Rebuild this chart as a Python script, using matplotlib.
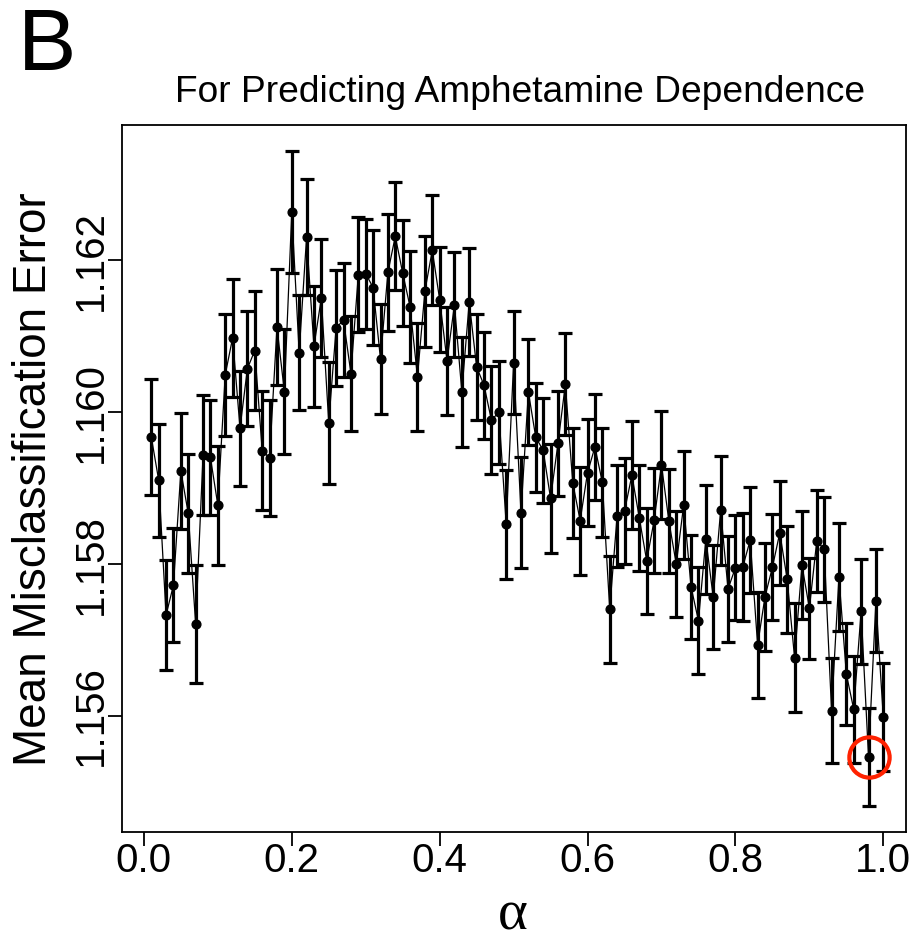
import numpy as np
import matplotlib
matplotlib.use("Agg")
import matplotlib.pyplot as plt

# ---------------- data ----------------
alpha = np.round(np.arange(1, 101) / 100.0, 2)

mean_err = [
    1.159675, 1.159105, 1.157329, 1.157724, 1.159228, 1.158667, 1.157211, 1.159434, 1.159404, 1.158776,
    1.160493, 1.160978, 1.159789, 1.160575, 1.160812, 1.159491, 1.159399, 1.161122, 1.160267, 1.162634,
    1.160786, 1.162303, 1.160868, 1.161504, 1.159859, 1.161114, 1.161211, 1.160509, 1.161812, 1.161825,
    1.161641, 1.160697, 1.161842, 1.162316, 1.161833, 1.161386, 1.160464, 1.161592, 1.162132, 1.161484,
    1.160675, 1.161417, 1.160267, 1.161451, 1.160596, 1.160355, 1.159895, 1.160000, 1.158526, 1.160651,
    1.158678, 1.160267, 1.159667, 1.159500, 1.158864, 1.159588, 1.160368, 1.159070, 1.158572, 1.159204,
    1.159543, 1.159075, 1.157404, 1.158636, 1.158697, 1.159171, 1.158609, 1.158043, 1.158575, 1.159307,
    1.158566, 1.158000, 1.158776, 1.157701, 1.157254, 1.158329, 1.157562, 1.158707, 1.157671, 1.157954,
    1.157964, 1.158316, 1.156934, 1.157570, 1.157957, 1.158412, 1.157799, 1.156767, 1.157987, 1.157417,
    1.158303, 1.158197, 1.156070, 1.157829, 1.156553, 1.156088, 1.157378, 1.155464, 1.157517, 1.155983,
]

se_err_e4 = [
    7.68, 7.46, 7.24, 7.53, 7.63, 7.89, 7.79, 7.89, 7.62, 7.83,
    8.03, 7.79, 7.57, 7.63, 7.86, 7.82, 7.68, 7.63, 8.22, 8.03,
    7.57, 7.62, 7.96, 7.72, 8.03, 7.63, 7.54, 7.55, 7.57, 7.24,
    7.57, 7.24, 7.68, 7.09, 7.03, 7.42, 7.16, 7.29, 7.24, 6.91,
    7.07, 6.91, 7.20, 7.16, 7.03, 7.07, 7.07, 6.80, 7.17, 6.78,
    7.34, 6.93, 7.21, 6.91, 7.20, 6.91, 6.74, 7.24, 7.13, 7.00,
    6.97, 7.17, 7.07, 6.70, 6.96, 7.11, 6.96, 6.95, 6.87, 7.13,
    6.80, 6.97, 7.07, 6.84, 7.04, 7.17, 6.83, 7.13, 6.97, 6.87,
    7.09, 6.95, 6.97, 7.11, 6.96, 6.87, 7.08, 7.17, 7.07, 6.64,
    6.76, 6.91, 6.87, 7.09, 6.70, 7.08, 6.91, 6.47, 6.80, 7.13,
]

xticks = [0.0, 0.2, 0.4, 0.6, 0.8, 1.0]
xtick_labels = ["0.0", "0.2", "0.4", "0.6", "0.8", "1.0"]
yticks = [1.156, 1.158, 1.160, 1.162]
ytick_labels = ["1.156", "1.158", "1.160", "1.162"]

title = "For Predicting Amphetamine Dependence"
ylabel = "Mean Misclassification Error"
xlabel = "\u03b1"
panel = "B"

mean_err = np.array(mean_err)
se = np.array(se_err_e4) * 1e-4
best = int(np.argmin(mean_err))

# ---------------- figure ----------------
SANS = ["Liberation Sans", "DejaVu Sans"]
plt.rcParams["font.family"] = SANS

W, H = 913, 942
fig = plt.figure(figsize=(W / 100, H / 100), dpi=100)
L, R, T, B = 122, 906, 125, 832
ax = fig.add_axes([L / W, 1 - B / H, (R - L) / W, (B - T) / H])

ax.errorbar(alpha, mean_err, yerr=se, fmt="none", ecolor="black",
            elinewidth=2.3, capsize=4.8, capthick=2.3, zorder=2)
ax.plot(alpha, mean_err, color="black", lw=0.9, zorder=3)
ax.plot(alpha, mean_err, "o", color="black", ms=6.3, zorder=4)
ax.plot(alpha[best], mean_err[best], "o", mfc="none", mec="#FF2200",
        ms=29, mew=3.0, zorder=5)

# R-style padding (slightly wider on the right, as in the source)
xr = alpha.max() - alpha.min()
ax.set_xlim(alpha.min() - 0.04 * xr, alpha.max() + 0.031 * xr)
lo = (mean_err - se).min()
hi = (mean_err + se).max()
yr = hi - lo
ax.set_ylim(lo - 0.04 * yr, hi + 0.04 * yr)

ax.set_xticks(xticks)
ax.set_xticklabels(xtick_labels, fontsize=29)
ax.set_yticks(yticks)
ax.set_yticklabels(ytick_labels, fontsize=29, rotation=90, va="center")
ax.tick_params(direction="out", length=10, width=1.3)
ax.tick_params(axis="x", pad=-2.5)
ax.tick_params(axis="y", pad=-1.4)
for s in ax.spines.values():
    s.set_linewidth(1.3)

fig.text(520 / W, 1 - 93 / H, title, ha="center", va="center", fontsize=26.7)
fig.text(34 / W, 1 - 479 / H, ylabel, ha="center", va="center",
         rotation=90, fontsize=33)
fig.text(513 / W, 1 - 915 / H, xlabel, ha="center", va="center",
         fontsize=41, family=["Liberation Serif", "DejaVu Serif"])
fig.text(18 / W, 1 - 70 / H, panel, ha="left", va="baseline", fontsize=63)

fig.savefig("out.png", dpi=100)
